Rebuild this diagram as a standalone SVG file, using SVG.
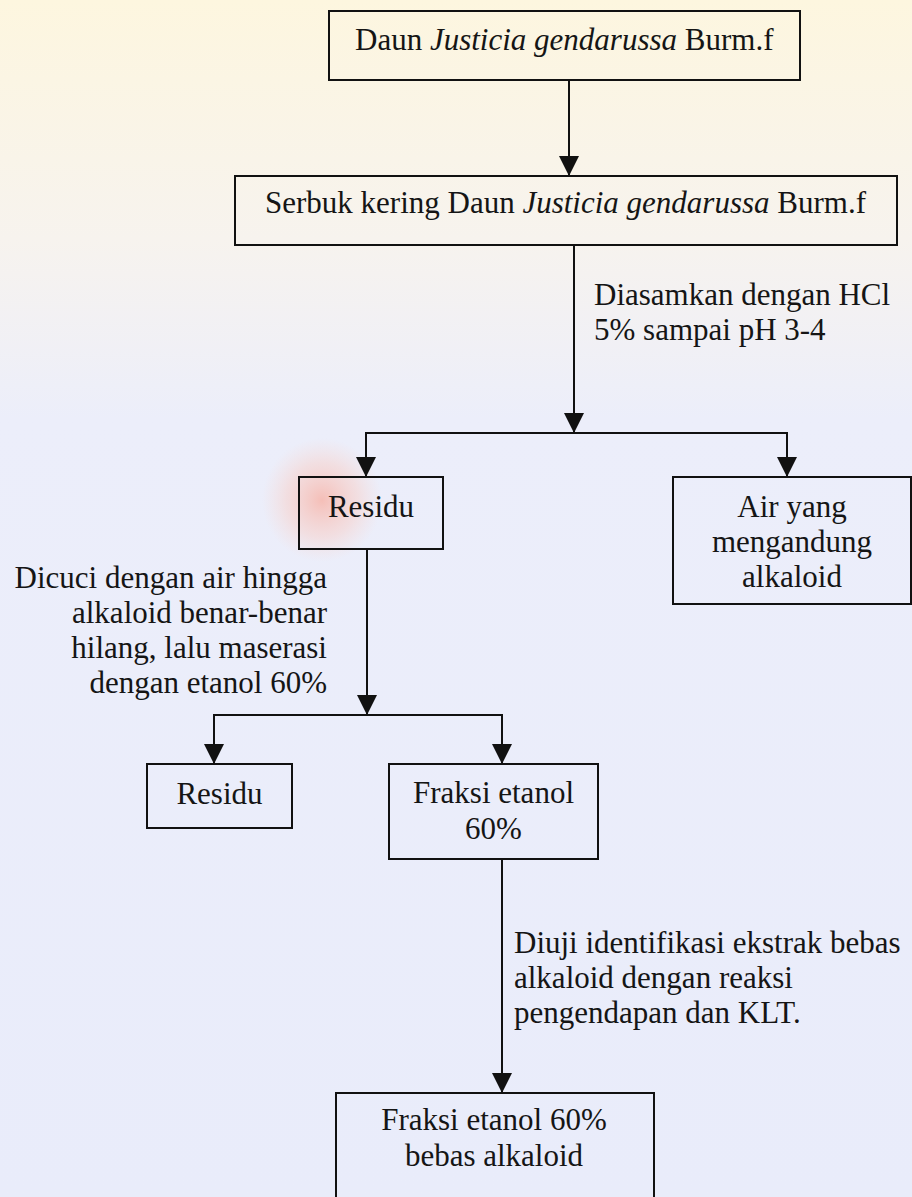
<svg xmlns="http://www.w3.org/2000/svg" width="912" height="1197" viewBox="0 0 912 1197">
  <defs>
    <linearGradient id="bg" x1="0" y1="0" x2="0" y2="1">
      <stop offset="0" stop-color="#fdf6df"/>
      <stop offset="0.2" stop-color="#f7f3ee"/>
      <stop offset="0.35" stop-color="#eceefa"/>
      <stop offset="1" stop-color="#e9ecfa"/>
    </linearGradient>
    <radialGradient id="pink" cx="0.5" cy="0.5" r="0.5">
      <stop offset="0" stop-color="#f6b9b0" stop-opacity="0.9"/>
      <stop offset="0.6" stop-color="#f8cfc8" stop-opacity="0.5"/>
      <stop offset="1" stop-color="#f8d8d2" stop-opacity="0"/>
    </radialGradient>
    <marker id="arr" markerUnits="userSpaceOnUse" markerWidth="20" markerHeight="20" refX="20" refY="10" orient="auto">
      <path d="M0,0 L20,10 L0,20 z" fill="#111"/>
    </marker>
    <style>
      .box { fill: none; stroke: #111; stroke-width: 2; }
      .ln { fill: none; stroke: #111; stroke-width: 2; }
      .t { font-family: "Liberation Serif", "Times New Roman", serif; font-size: 31px; fill: #151515; }
      .c { text-anchor: middle; }
      .r { text-anchor: end; }
      .i { font-style: italic; }
    </style>
  </defs>
  <rect x="0" y="0" width="912" height="1197" fill="url(#bg)"/>
  <ellipse cx="322" cy="500" rx="60" ry="62" fill="url(#pink)"/>

  <g id="connectors">
    <line class="ln" x1="569" y1="80" x2="569" y2="176" marker-end="url(#arr)"/>
    <line class="ln" x1="574" y1="245" x2="574" y2="433" marker-end="url(#arr)"/>
    <polyline class="ln" points="366,477 366,433 787,433 787,477"/>
    <line class="ln" x1="366" y1="433" x2="366" y2="477" marker-end="url(#arr)"/>
    <line class="ln" x1="787" y1="433" x2="787" y2="477" marker-end="url(#arr)"/>
    <line class="ln" x1="367" y1="549" x2="367" y2="715" marker-end="url(#arr)"/>
    <polyline class="ln" points="214,764 214,715 502,715 502,764"/>
    <line class="ln" x1="214" y1="715" x2="214" y2="764" marker-end="url(#arr)"/>
    <line class="ln" x1="502" y1="715" x2="502" y2="764" marker-end="url(#arr)"/>
    <line class="ln" x1="502" y1="859" x2="502" y2="1093" marker-end="url(#arr)"/>
    <g id="label-asam">
      <text class="t" x="594" y="305">Diasamkan dengan HCl</text>
      <text class="t" x="594" y="340">5% sampai pH 3-4</text>
    </g>
    <g id="label-cuci">
      <text class="t r" x="327" y="588">Dicuci dengan air hingga</text>
      <text class="t r" x="327" y="623">alkaloid benar-benar</text>
      <text class="t r" x="327" y="658">hilang, lalu maserasi</text>
      <text class="t r" x="327" y="693">dengan etanol 60%</text>
    </g>
    <g id="label-uji">
      <text class="t" x="514" y="953">Diuji identifikasi ekstrak bebas</text>
      <text class="t" x="514" y="988">alkaloid dengan reaksi</text>
      <text class="t" x="514" y="1023">pengendapan dan KLT.</text>
    </g>
  </g>

  <g id="daun">
    <rect class="box" x="329" y="11" width="471" height="69"/>
    <text class="t" x="355" y="50">Daun <tspan class="i">Justicia gendarussa</tspan> Burm.f</text>
  </g>
  <g id="serbuk">
    <rect class="box" x="235" y="176" width="662" height="69"/>
    <text class="t" x="265" y="213">Serbuk kering Daun <tspan class="i">Justicia gendarussa</tspan> Burm.f</text>
  </g>
  <g id="residu1">
    <rect class="box" x="299" y="477" width="144" height="72"/>
    <text class="t c" x="371" y="517">Residu</text>
  </g>
  <g id="air">
    <rect class="box" x="673" y="477" width="238" height="127"/>
    <text class="t c" x="792" y="517">Air yang</text>
    <text class="t c" x="792" y="552">mengandung</text>
    <text class="t c" x="792" y="587">alkaloid</text>
  </g>
  <g id="residu2">
    <rect class="box" x="147" y="764" width="145" height="64"/>
    <text class="t c" x="219.5" y="804">Residu</text>
  </g>
  <g id="fraksi">
    <rect class="box" x="389" y="764" width="209" height="95"/>
    <text class="t c" x="493.5" y="803">Fraksi etanol</text>
    <text class="t c" x="493.5" y="839">60%</text>
  </g>
  <g id="fraksi-bebas">
    <rect class="box" x="336" y="1093" width="318" height="120"/>
    <text class="t c" x="494" y="1130">Fraksi etanol 60%</text>
    <text class="t c" x="494" y="1166">bebas alkaloid</text>
  </g>
</svg>
